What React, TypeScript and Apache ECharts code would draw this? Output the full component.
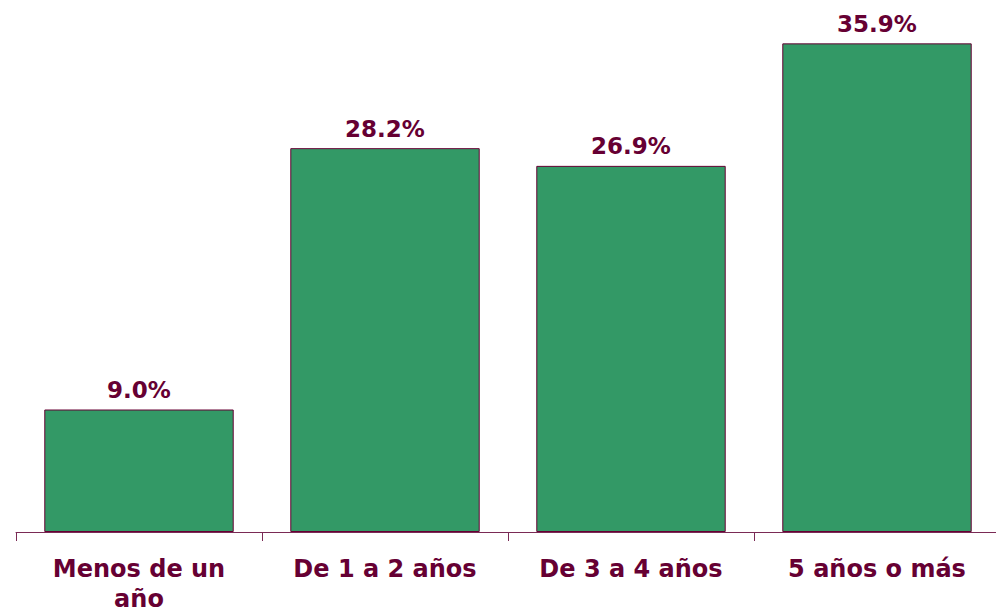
import React, { useEffect, useRef } from "react";
import * as echarts from "echarts";

const categories = ["Menos de un\naño", "De 1 a 2 años", "De 3 a 4 años", "5 años o más"];
const values = [9.0, 28.2, 26.9, 35.9];

const LABEL_COLOR = "#660033";
const BAR_COLOR = "#339966";

export default function App() {
  const ref = useRef<HTMLDivElement>(null);
  useEffect(() => {
    if (!ref.current) return;
    const chart = echarts.init(ref.current, undefined, { renderer: "svg" });
    chart.setOption({
      animation: false,
      backgroundColor: "#ffffff",
      grid: { left: 16, right: 0, top: 42, bottom: 81, containLabel: false },
      xAxis: {
        type: "category",
        data: categories,
        axisLine: { show: true, lineStyle: { color: "#7a2a55", width: 1 } },
        axisTick: { show: true, length: 9, lineStyle: { color: "#7a2a55", width: 1 } },
        axisLabel: {
          interval: 0,
          margin: 22,
          color: LABEL_COLOR,
          fontFamily: "DejaVu Sans",
          fontWeight: "bold",
          fontSize: 24,
          lineHeight: 30,
        },
      },
      yAxis: {
        type: "value",
        min: 0,
        max: 36,
        show: false,
        splitLine: { show: false },
      },
      series: [
        {
          type: "bar",
          data: values,
          barCategoryGap: "23%",
          itemStyle: { color: BAR_COLOR, borderColor: "#660033", borderWidth: 1 },
          label: {
            show: true,
            position: "top",
            distance: 8,
            formatter: (p: any) => p.value.toFixed(1) + "%",
            color: LABEL_COLOR,
            fontFamily: "DejaVu Sans",
            fontWeight: "bold",
            fontSize: 23,
          },
        },
      ],
    });
    return () => chart.dispose();
  }, []);
  return (
    <div
      style={{ position: "absolute", left: 0, top: 0, width: 996, height: 614, overflow: "hidden" }}
    >
      <div ref={ref} style={{ width: 1000, height: 614 }} />
    </div>
  );
}
